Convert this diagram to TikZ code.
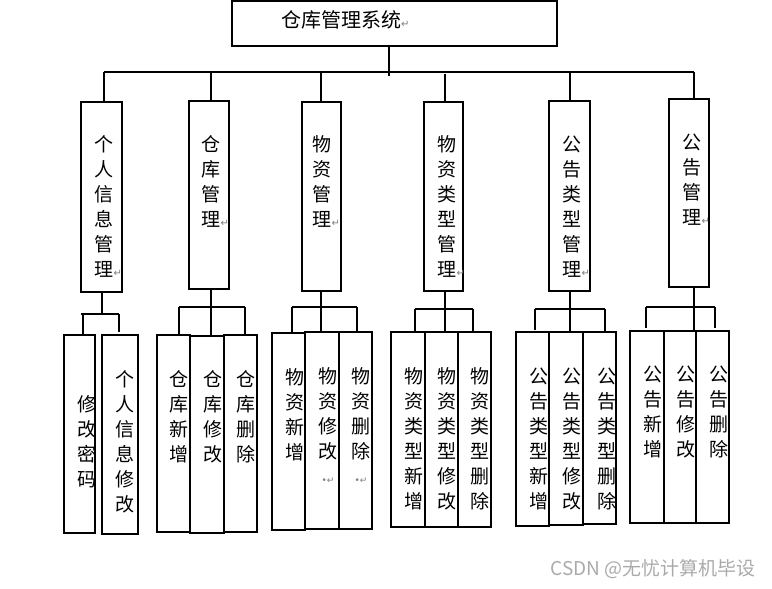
\documentclass[tikz,border=0pt]{standalone}
\usepackage{fontspec}
\usepackage{tikz}
\usetikzlibrary{positioning, calc}
\newfontfamily\cjk{Noto Sans CJK SC}
\newfontfamily\markfont{DejaVu Sans}
\definecolor{colBorder}{RGB}{0,0,0}
\definecolor{colMark}{RGB}{125,125,125}
\definecolor{colWater}{RGB}{170,170,170}
\tikzset{
    block/.style={rectangle, draw=colBorder, line width=1.1pt, inner sep=0pt},
    vlabel/.style={align=center, inner sep=0pt, anchor=north,
        font=\cjk\fontsize{19}{25}\selectfont},
    link/.style={draw=colBorder, line width=1.1pt}
}
\newcommand{\pmark}{\rlap{\markfont\color{colMark}\fontsize{10}{10}\selectfont ↵}}
\newcommand{\dotmark}{{\markfont\color{colMark}\fontsize{9}{25}\selectfont •↵}}

\begin{document}
\begin{tikzpicture}[x=1pt, y=-1pt]
    \useasboundingbox (0,0) rectangle (772,589);

    % top
    \node[block, minimum width=325pt, minimum height=45pt] (sys) at (394.5,23.5) {};
    \node[anchor=west, inner sep=0pt, font=\cjk\fontsize{20}{24}\selectfont] (systxt) at (281,20) {仓库管理系统\pmark};

    % first level
    \node[block, minimum width=41pt, minimum height=190pt] (person) at (101.5,197) {};
    \node[block, minimum width=40pt, minimum height=188pt] (store) at (209,195) {};
    \node[block, minimum width=39pt, minimum height=189pt] (goods) at (321.5,196.5) {};
    \node[block, minimum width=39pt, minimum height=189pt] (goodstype) at (443.5,196.5) {};
    \node[block, minimum width=41pt, minimum height=190pt] (noticetype) at (569.5,196) {};
    \node[block, minimum width=40pt, minimum height=188pt] (notice) at (689,193) {};

    \node[vlabel] (persontxt) at (104,135.5) {个\\人\\信\\息\\管\\理\pmark};
    \node[vlabel] (storetxt) at (211,135.5) {仓\\库\\管\\理\pmark};
    \node[vlabel] (goodstxt) at (322,135.5) {物\\资\\管\\理\pmark};
    \node[vlabel] (goodstypetxt) at (447,135.5) {物\\资\\类\\型\\管\\理\pmark};
    \node[vlabel] (noticetypetxt) at (572,135.5) {公\\告\\类\\型\\管\\理\pmark};
    \node[vlabel] (noticetxt) at (692,133.5) {公\\告\\管\\理\pmark};

    % second level
    \node[block, minimum width=31pt, minimum height=198pt] (pwd) at (79.5,434) {};
    \node[block, minimum width=36pt, minimum height=199pt] (personedit) at (120,434.5) {};
    \node[block, minimum width=33pt, minimum height=197pt] (storeadd) at (173.5,433.5) {};
    \node[block, minimum width=34pt, minimum height=197pt] (storeedit) at (207,434.5) {};
    \node[block, minimum width=33pt, minimum height=197pt] (storedel) at (240.5,433.5) {};
    \node[block, minimum width=33pt, minimum height=197pt] (goodsadd) at (288.5,431.5) {};
    \node[block, minimum width=34pt, minimum height=197pt] (goodsedit) at (322,430.5) {};
    \node[block, minimum width=33pt, minimum height=197pt] (goodsdel) at (355.5,430.5) {};
    \node[block, minimum width=34pt, minimum height=195pt] (gtadd) at (408,429.5) {};
    \node[block, minimum width=33pt, minimum height=195pt] (gtedit) at (441.5,429.5) {};
    \node[block, minimum width=33pt, minimum height=195pt] (gtdel) at (474.5,429.5) {};
    \node[block, minimum width=33pt, minimum height=194pt] (ntadd) at (532.5,429) {};
    \node[block, minimum width=34pt, minimum height=193pt] (ntedit) at (566,428.5) {};
    \node[block, minimum width=33pt, minimum height=192pt] (ntdel) at (599.5,428) {};
    \node[block, minimum width=34pt, minimum height=192pt] (noticeadd) at (647,427) {};
    \node[block, minimum width=32pt, minimum height=192pt] (noticeedit) at (680,427) {};
    \node[block, minimum width=33pt, minimum height=192pt] (noticedel) at (712.5,427) {};

    \node[vlabel] (pwdtxt) at (87,395.5) {修\\改\\密\\码};
    \node[vlabel] (personedittxt) at (125,370.5) {个\\人\\信\\息\\修\\改};
    \node[vlabel] (storeaddtxt) at (179,370.5) {仓\\库\\新\\增};
    \node[vlabel] (storeedittxt) at (213,370.5) {仓\\库\\修\\改};
    \node[vlabel] (storedeltxt) at (246,370.5) {仓\\库\\删\\除};
    \node[vlabel] (goodsaddtxt) at (295,368.5) {物\\资\\新\\增};
    \node[vlabel] (goodsedittxt) at (328,367.5) {物\\资\\修\\改\\\dotmark};
    \node[vlabel] (goodsdeltxt) at (361,367.5) {物\\资\\删\\除\\\dotmark};
    \node[vlabel] (gtaddtxt) at (414,367.5) {物\\资\\类\\型\\新\\增};
    \node[vlabel] (gtedittxt) at (447,367.5) {物\\资\\类\\型\\修\\改};
    \node[vlabel] (gtdeltxt) at (480,367.5) {物\\资\\类\\型\\删\\除};
    \node[vlabel] (ntaddtxt) at (539,367.5) {公\\告\\类\\型\\新\\增};
    \node[vlabel] (ntedittxt) at (572,367.5) {公\\告\\类\\型\\修\\改};
    \node[vlabel] (ntdeltxt) at (607,367.5) {公\\告\\类\\型\\删\\除};
    \node[vlabel] (noticeaddtxt) at (653,365.5) {公\\告\\新\\增};
    \node[vlabel] (noticeedittxt) at (686,365.5) {公\\告\\修\\改};
    \node[vlabel] (noticedeltxt) at (719,365.5) {公\\告\\删\\除};

    % top links
    \coordinate (busL) at (104,72);
    \coordinate (busR) at (694,72);
    \draw[link] (busL) -- (busR);
    \draw[link] ([xshift=-5.5pt]sys.south) -- ++(0,29);
    \draw[link] (busL) -- (busL |- person.north);
    \draw[link] ([xshift=2pt]store.north) -- ++(0,-27);
    \draw[link] ([xshift=-0.5pt]goods.north) -- ++(0,-28);
    \draw[link] ([xshift=1.5pt]goodstype.north) -- ++(0,-27);
    \draw[link] ([xshift=0.5pt]noticetype.north) -- ++(0,-27);
    \draw[link] (busR) -- (busR |- notice.north);

    % person links
    \coordinate (pbusL) at (83,314);
    \coordinate (pbusR) at (119,314);
    \draw[link] ([xshift=0.5pt]person.south) -- ++(0,22);
    \draw[link] ([xshift=-2pt]pbusL) -- (pbusR);
    \draw[link] (pbusL) -- (pbusL |- pwd.north);
    \draw[link] (pbusR) -- ([yshift=2pt]pbusR |- personedit.north);

    % store links
    \coordinate (sbusL) at (179,307);
    \coordinate (sbusR) at (245,307);
    \draw[link] ([xshift=2pt]store.south) -- ++(0,47);
    \draw[link] (sbusL) -- (sbusR);
    \draw[link] (sbusL) -- (sbusL |- storeadd.north);
    \draw[link] (sbusR) -- (sbusR |- storedel.north);

    % goods links
    \coordinate (gbusL) at (292,307);
    \coordinate (gbusR) at (357,307);
    \draw[link] ([xshift=-0.5pt]goods.south) -- ++(0,41);
    \draw[link] (gbusL) -- (gbusR);
    \draw[link] (gbusL) -- (gbusL |- goodsadd.north);
    \draw[link] (gbusR) -- (gbusR |- goodsdel.north);

    % goods type links
    \coordinate (gtbusL) at (415,309);
    \coordinate (gtbusR) at (473,309);
    \draw[link] ([xshift=1.5pt]goodstype.south) -- ++(0,41);
    \draw[link] (gtbusL) -- (gtbusR);
    \draw[link] (gtbusL) -- (gtbusL |- gtadd.north);
    \draw[link] (gtbusR) -- (gtbusR |- gtdel.north);

    % notice type links
    \coordinate (ntbusL) at (535,309);
    \coordinate (ntbusR) at (605,309);
    \draw[link] ([xshift=0.5pt]noticetype.south) -- ++(0,41);
    \draw[link] (ntbusL) -- (ntbusR);
    \draw[link] (ntbusL) -- ++(0,21);
    \draw[link] (ntbusR) -- (ntbusR |- ntdel.north);

    % notice links
    \coordinate (nbusL) at (646,307);
    \coordinate (nbusR) at (715,307);
    \draw[link] ([xshift=5pt]notice.south) -- ++(0,44);
    \draw[link] (nbusL) -- (nbusR);
    \draw[link] (nbusL) -- ++(0,21);
    \draw[link] (nbusR) -- ++(0,21);

    \node[anchor=east, inner sep=0pt, text=colWater, font=\cjk\fontsize{19}{22}\selectfont] (water) at (756,569) {CSDN @无忧计算机毕设};
\end{tikzpicture}
\end{document}
